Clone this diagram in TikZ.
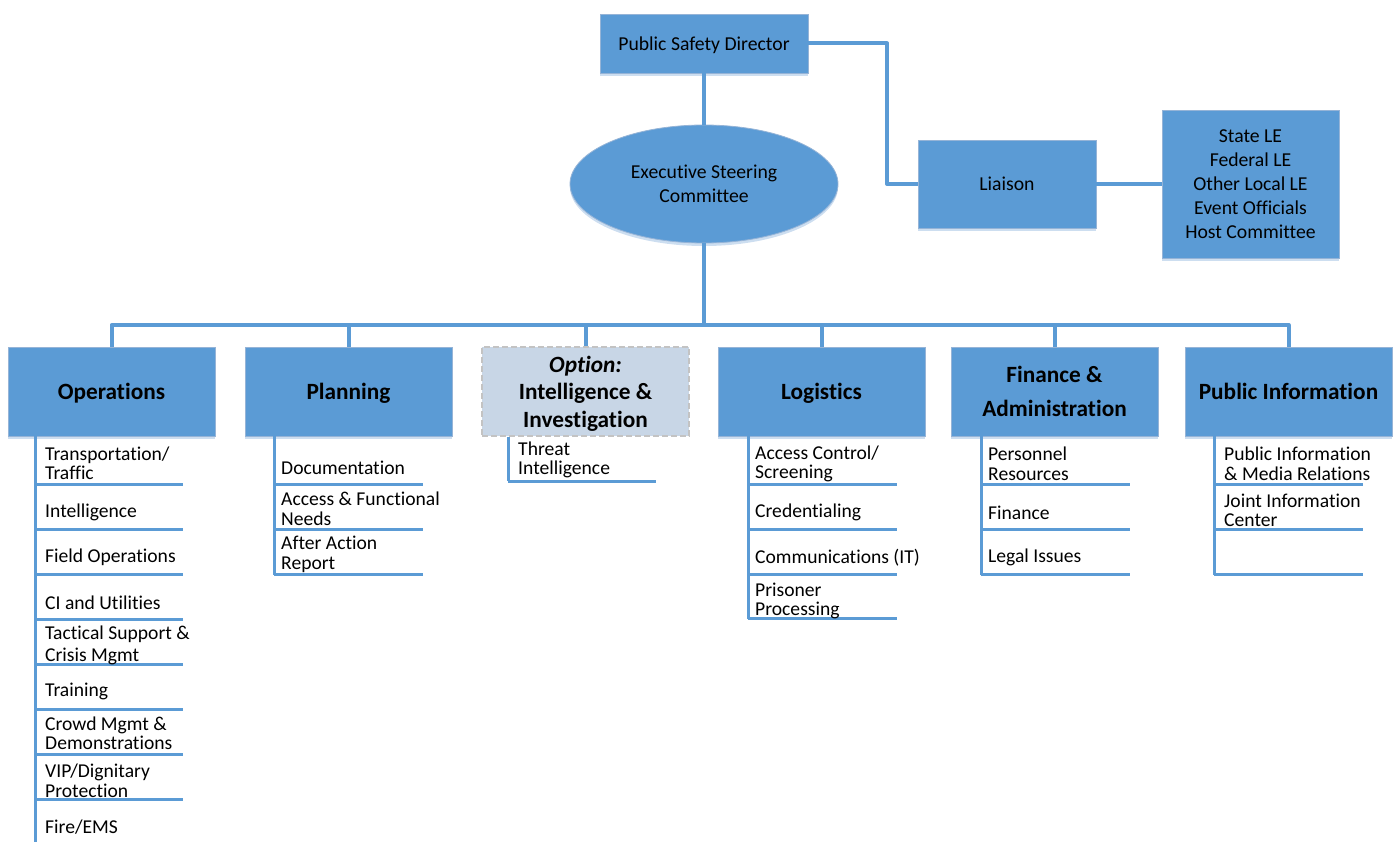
\documentclass[tikz,border=0pt]{standalone}
\usepackage{fontspec}
\setmainfont[Ligatures=NoCommon]{Carlito}
\usetikzlibrary{shapes.geometric,calc,shadows}
\definecolor{boxblue}{RGB}{91,155,213}
\definecolor{lineblue}{RGB}{91,155,213}
\definecolor{boxedge}{RGB}{150,180,215}
\definecolor{optfill}{RGB}{200,214,230}
\definecolor{optedge}{RGB}{195,195,195}
\definecolor{shade}{RGB}{205,222,240}
\begin{document}
\begin{tikzpicture}[x=1pt,y=-1pt,
  shd/.style={drop shadow={shadow xshift=0pt,shadow yshift=-3pt,fill=shade,opacity=1}},
  bluebox/.style={rectangle,draw=boxedge,fill=boxblue,line width=0.8pt,align=center,inner sep=0pt,shd,
    font=\fontsize{19.7}{24}\selectfont},
  headbox/.style={bluebox,minimum width=207pt,minimum height=89pt,
    font=\fontsize{23.3}{27.5}\selectfont\bfseries},
  optbox/.style={rectangle,draw=optedge,dashed,dash pattern=on 6pt off 3pt,fill=optfill,line width=1.5pt,
    minimum width=207pt,minimum height=89pt,align=center,inner sep=0pt,
    font=\fontsize{23.3}{27.5}\selectfont\bfseries},
  conn/.style={draw=lineblue,line width=4pt,line join=round},
  sub/.style={draw=lineblue,line width=3pt},
  item/.style={anchor=west,align=left,inner sep=0pt,yshift=-1.5pt,font=\fontsize{19.6}{19.5}\selectfont}]
\useasboundingbox (0,0) rectangle (1397,842);

% top
\node[bluebox,minimum width=208pt,minimum height=59pt,text depth=0pt] (psd) at (704,43.5) {Public Safety Director};
\node[ellipse,draw=boxedge,fill=boxblue,line width=0.8pt,shd,minimum width=268pt,minimum height=118pt,
  align=center,inner sep=0pt,font=\fontsize{19.7}{24}\selectfont] (esc) at (704,184) {Executive Steering\\Committee};
\node[bluebox,minimum width=178pt,minimum height=88pt] (liaison) at (1007,184) {Liaison};
\node[bluebox,minimum width=177pt,minimum height=148pt] (le) at (1250.5,184)
  {State LE\\Federal LE\\Other Local LE\\Event Officials\\Host Committee};

\coordinate (lk) at (887,184);
\coordinate (bus) at (704,325);

% heads
\node[headbox,text depth=0pt] (ops) at (111.5,391.5) {Operations};
\node[headbox,text depth=0pt] (plan) at (348.5,391.5) {Planning};
\node[optbox,text depth=0pt] (opt) at (585.5,391.5) {\textit{Option:}\\Intelligence \&\\Investigation};
\node[headbox,text depth=0pt] (log) at (821.5,391.5) {Logistics};
\node[headbox] (fin) at (1054.5,391.5) {Finance \&\\[6pt]Administration};
\node[headbox] (pub) at (1288.5,391.5) {Public Information};

% connectors
\draw[conn] (psd.south) -- (esc.north);
\draw[conn] (psd.east) -| (lk) -- (liaison.west);
\draw[conn] (liaison.east) -- (le.west);
\draw[conn] (esc.south) -- (bus);
\draw[conn] (ops.north) |- (pub.north |- bus) -- (pub.north);
\foreach \n in {plan,opt,log,fin}{\draw[conn] (\n.north) -- (\n.north |- bus);}

% list spines
\coordinate (opsE) at (35,842);
\coordinate (planE) at (274,575);
\coordinate (optE) at (508,481);
\coordinate (logE) at (748,619);
\coordinate (finE) at (981,575);
\coordinate (pubE) at (1214,575);
\foreach \n in {ops,plan,opt,log,fin,pub}{\draw[sub] (\n E |- \n.south) -- (\n E);}

% separators
\foreach \y in {484,529,574,619,664,709,754,799}{\draw[sub] (35,\y) -- ++(148,0);}
\foreach \y in {484,529,574}{\draw[sub] (274,\y) -- ++(149,0);}
\draw[sub] (508,481) -- ++(148,0);
\foreach \y in {484,529,574,618}{\draw[sub] (748,\y) -- ++(149,0);}
\foreach \y in {484,529,574}{\draw[sub] (981,\y) -- ++(149,0);}
\foreach \y in {484,529,574}{\draw[sub] (1214,\y) -- ++(149,0);}

% items
\node[item] (o1) at (45,462) {Transportation/\\Traffic};
\node[item] (o2) at (45,511) {Intelligence};
\node[item] (o3) at (45,556) {Field Operations};
\node[item] (o4) at (45,601) {CI and Utilities};
\node[item,font=\fontsize{19.6}{22}\selectfont] (o5) at (45,644) {Tactical Support \&\\Crisis Mgmt};
\node[item] (o6) at (45,690) {Training};
\node[item] (o7) at (45,732) {Crowd Mgmt \&\\Demonstrations};
\node[item] (o8) at (45,779.5) {VIP/Dignitary\\Protection};
\node[item] (o9) at (45,826) {Fire/EMS};

\node[item] (p1) at (281,466) {Documentation};
\node[item] (p2) at (281,507.5) {Access \& Functional\\Needs};
\node[item] (p3) at (281,553) {After Action\\Report};

\node[item] (t1) at (518,458.5) {Threat\\Intelligence};

\node[item] (l1) at (755,462.5) {Access Control/\\Screening};
\node[item] (l2) at (755,511) {Credentialing};
\node[item] (l3) at (755,556) {Communications (IT)};
\node[item] (l4) at (755,599.5) {Prisoner\\Processing};

\node[item] (f1) at (988,462.5) {Personnel\\Resources};
\node[item] (f2) at (988,511) {Finance};
\node[item] (f3) at (988,556) {Legal Issues};

\node[item] (u1) at (1224,462.5) {Public Information\\\& Media Relations};
\node[item] (u2) at (1224,509) {Joint Information\\Center};
\end{tikzpicture}
\end{document}
